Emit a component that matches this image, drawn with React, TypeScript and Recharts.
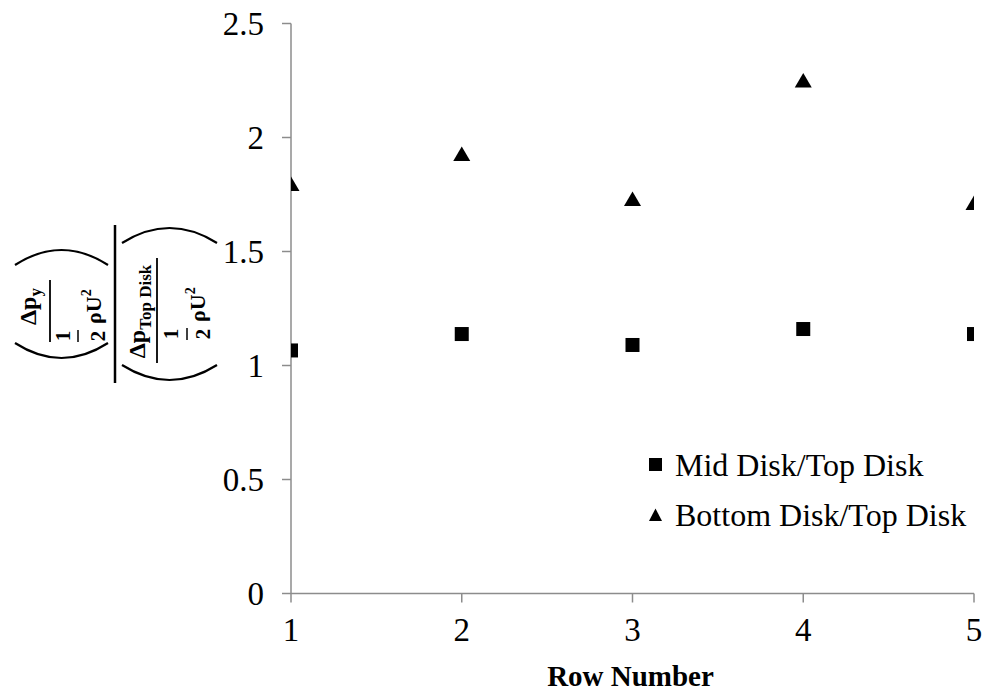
import React from "react";
import { ScatterChart, Scatter, XAxis, YAxis, Legend, Label } from "recharts";

const rowNumbers = [1, 2, 3, 4, 5];
const midDiskRatio = [1.066, 1.138, 1.09, 1.16, 1.138];
const bottomDiskRatio = [1.796, 1.928, 1.73, 2.25, 1.713];
const yTicks = [0, 0.5, 1, 1.5, 2, 2.5];
const xTicks = [1, 2, 3, 4, 5];
const seriesNames = ["Mid Disk/Top Disk", "Bottom Disk/Top Disk"];
const xAxisTitle = "Row Number";

const midData = rowNumbers.map((r, i) => ({ x: r, y: midDiskRatio[i] }));
const bottomData = rowNumbers.map((r, i) => ({ x: r, y: bottomDiskRatio[i] }));

const SERIF = "'Liberation Serif', 'Times New Roman', serif";
const AXIS = "#8c8c8c";

const SquareShape = (p: any) => (
  <rect x={p.cx - 7} y={p.cy - 7} width={14} height={14} fill="#000" />
);
const TriangleShape = (p: any) => (
  <polygon
    points={`${p.cx},${p.cy - 7.5} ${p.cx + 8.5},${p.cy + 7} ${p.cx - 8.5},${p.cy + 7}`}
    fill="#000"
  />
);

const Paren = ({ T, e, h }: { T: number; e: number; h: number }) => (
  <g fill="none" stroke="#000" strokeWidth={2.2}>
    <path d={`M ${-e} ${T} Q ${-e - 30} ${T + h / 2} ${-e} ${T + h}`} />
    <path d={`M ${e} ${T} Q ${e + 30} ${T + h / 2} ${e} ${T + h}`} />
  </g>
);

const YLabel = (props: any) => {
  const vb = props.viewBox || { x: 0, y: 23.5, width: 291, height: 570 };
  const cx = vb.x + 115;
  const cy = vb.y + vb.height / 2 - 4.5;
  const txt = { fontFamily: SERIF, fontWeight: "bold" as const, fill: "#000" };
  return (
    <g transform={`translate(${cx},${cy}) rotate(-90)`}>
      <line x1={-79} y1={0} x2={79} y2={0} stroke="#000" strokeWidth={2.5} />
      <Paren T={-100} e={39} h={93} />
      <text x={-2.5} y={-79} textAnchor="middle" fontSize={24} {...txt}>
        Δp<tspan dy={5} fontSize={17}>y</tspan>
      </text>
      <line x1={-38} y1={-65} x2={24} y2={-65} stroke="#000" strokeWidth={1.8} />
      <text x={-32} y={-45} textAnchor="middle" fontSize={21} {...txt}>1</text>
      <line x1={-38} y1={-37} x2={-26} y2={-37} stroke="#000" strokeWidth={1.5} />
      <text x={-32} y={-10} textAnchor="middle" fontSize={21} {...txt}>2</text>
      <text x={-20} y={-14} textAnchor="start" fontSize={22} {...txt}>
        ρU<tspan dy={-10} fontSize={14}>2</tspan>
      </text>
      <Paren T={7} e={61} h={95} />
      <text x={-7.5} y={30} textAnchor="middle" fontSize={24} {...txt}>
        Δp<tspan dy={6} fontSize={17}>Top Disk</tspan>
      </text>
      <line x1={-59} y1={42} x2={46} y2={42} stroke="#000" strokeWidth={1.8} />
      <text x={-30} y={63} textAnchor="middle" fontSize={21} {...txt}>1</text>
      <line x1={-36} y1={72} x2={-24} y2={72} stroke="#000" strokeWidth={1.5} />
      <text x={-30} y={95} textAnchor="middle" fontSize={21} {...txt}>2</text>
      <text x={-18} y={90} textAnchor="start" fontSize={22} {...txt}>
        ρU<tspan dy={-10} fontSize={14}>2</tspan>
      </text>
    </g>
  );
};

const XLabel = (props: any) => {
  const vb = props.viewBox || { x: 291, y: 593.5, width: 683, height: 99.5 };
  return (
    <text
      x={vb.x + vb.width / 2 - 2}
      y={vb.y + 92.5}
      textAnchor="middle"
      fontFamily={SERIF}
      fontWeight="bold"
      fontSize={29}
      fill="#000"
    >
      {xAxisTitle}
    </text>
  );
};

const LegendContent = () => (
  <div style={{ fontFamily: SERIF, fontSize: 32, color: "#000" }}>
    {seriesNames.map((name, i) => (
      <div key={name} style={{ display: "flex", alignItems: "center", height: 50 }}>
        <svg width={18} height={16} style={{ display: "block" }}>
          {i === 0 ? (
            <rect x={1} y={1} width={13} height={13} fill="#000" />
          ) : (
            <polygon points="7.5,1.5 14,14 1,14" fill="#000" />
          )}
        </svg>
        <span style={{ marginLeft: 9, whiteSpace: "nowrap" }}>{name}</span>
      </div>
    ))}
  </div>
);

export default function App() {
  return (
    <div style={{ position: "absolute", left: 0, top: 0, width: 985, height: 693, background: "#fff" }}>
      <ScatterChart
        width={985}
        height={693}
        margin={{ top: 23.5, right: 11, bottom: 0, left: 0 }}
      >
        <XAxis
          type="number"
          dataKey="x"
          domain={[1, 5]}
          ticks={xTicks}
          allowDataOverflow
          height={99.5}
          stroke={AXIS}
          strokeWidth={1.5}
          tickSize={9}
          tickMargin={15}
          tick={{ fill: "#000", fontSize: 33, fontFamily: SERIF }}
          tickLine={{ stroke: AXIS, strokeWidth: 1.5 }}
        >
          <Label content={<XLabel />} />
        </XAxis>
        <YAxis
          type="number"
          dataKey="y"
          domain={[0, 2.5]}
          ticks={yTicks}
          allowDataOverflow
          width={291}
          stroke={AXIS}
          strokeWidth={1.5}
          tickSize={9}
          tickMargin={18}
          tick={{ fill: "#000", fontSize: 33, fontFamily: SERIF }}
          tickLine={{ stroke: AXIS, strokeWidth: 1.5 }}
          tickFormatter={(v: number) => String(v)}
        >
          <Label content={<YLabel />} />
        </YAxis>
        <Legend
          layout="vertical"
          align="center"
          verticalAlign="middle"
          content={<LegendContent />}
          wrapperStyle={{ position: "absolute", left: 648, top: 440, width: 340, right: "auto", bottom: "auto" }}
        />
        <Scatter
          name={seriesNames[0]}
          data={midData}
          shape={<SquareShape />}
          isAnimationActive={false}
        />
        <Scatter
          name={seriesNames[1]}
          data={bottomData}
          shape={<TriangleShape />}
          isAnimationActive={false}
        />
      </ScatterChart>
    </div>
  );
}
